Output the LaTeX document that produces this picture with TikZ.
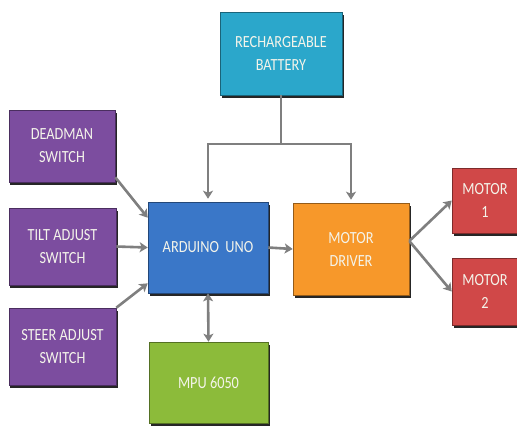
\documentclass[tikz,border=0pt]{standalone}
\usepackage{fontspec}
\setmainfont{Carlito}[FakeStretch=0.84]
\usetikzlibrary{arrows.meta,shadows}
\definecolor{cbat}{HTML}{2BA7CB}
\definecolor{cpur}{HTML}{7C4D9F}
\definecolor{cblu}{HTML}{3A77C8}
\definecolor{cora}{HTML}{F7982A}
\definecolor{cred}{HTML}{D04848}
\definecolor{cgrn}{HTML}{8CBB3A}
\definecolor{carr}{HTML}{7F7F7F}
\definecolor{ctxt}{HTML}{F4F4EA}
\begin{document}
\begin{tikzpicture}[x=1bp,y=-1bp,
  blk/.style={draw=#1!60!black, line width=0.6bp, fill=#1, rectangle, align=center,
    text=ctxt, font=\fontsize{17bp}{23bp}\selectfont, inner sep=1bp,
    drop shadow={shadow xshift=1.5bp, shadow yshift=-2.5bp, opacity=0.85, fill=black}},
  arr/.style={draw=carr, line width=2.6bp, -{Stealth[length=8bp,width=10bp,inset=2bp]}},
  darr/.style={draw=carr, line width=2.6bp, {Stealth[length=8bp,width=10bp,inset=2bp]}-{Stealth[length=8bp,width=10bp,inset=2bp]}},
  ln/.style={draw=carr, line width=2.6bp}]
\useasboundingbox (0,0) rectangle (517,425);
\fill[white] (0,0) rectangle (517,425);
\node[blk=cbat, minimum width=122bp, minimum height=83bp] (bat) at (281,53.5) {RECHARGEABLE\\BATTERY};
\node[blk=cpur, minimum width=106bp, minimum height=72bp] (dead) at (62,146) {DEADMAN\\SWITCH};
\node[blk=cpur, minimum width=107bp, minimum height=77bp] (tilt) at (62.5,246.5) {TILT ADJUST\\SWITCH};
\node[blk=cpur, minimum width=107bp, minimum height=77bp] (steer) at (62.5,346.5) {STEER ADJUST\\SWITCH};
\node[blk=cblu, minimum width=120bp, minimum height=91bp] (ard) at (208,247.5) {ARDUINO~ UNO};
\node[blk=cora, minimum width=116bp, minimum height=92bp] (drv) at (351,249) {MOTOR\\DRIVER};
\node[blk=cred, minimum width=66bp, minimum height=65bp] (m1) at (485,200.5) {MOTOR\\1};
\node[blk=cred, minimum width=66bp, minimum height=67bp] (m2) at (485,291.5) {MOTOR\\2};
\node[blk=cgrn, minimum width=119bp, minimum height=81bp] (mpu) at (208.5,382.5) {MPU 6050};
\coordinate (j) at (281,144);
\draw[ln] (bat.south) -- (j);
\draw[arr] (j) -| ([yshift=3bp]ard.north);
\draw[arr] (j) -| ([yshift=3bp]drv.north);
\draw[arr] ([yshift=5bp]dead.south east) -- ([yshift=-16bp]ard.north west);
\draw[arr] (tilt.east) -- (ard.west);
\draw[arr] (steer.north east) -- ([yshift=10bp]ard.south west);
\draw[arr] (ard.east) -- (drv.west);
\draw[darr] (ard.south) -- (mpu.north);
\draw[arr] ([yshift=8bp]drv.east) -- (m1.west);
\draw[arr] ([yshift=8bp]drv.east) -- (m2.west);
\end{tikzpicture}
\end{document}
